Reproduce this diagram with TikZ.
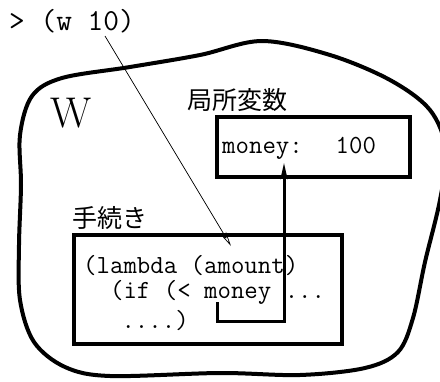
\documentclass[tikz,border=0pt]{standalone}
\usepackage{fontspec}
\newfontfamily\cjk{Noto Sans CJK JP}
\usetikzlibrary{arrows.meta}
\tikzset{
  code/.style={inner sep=0pt, anchor=base west, font=\ttfamily\fontsize{26.1}{30}\selectfont},
  prompttext/.style={inner sep=0pt, anchor=base west, font=\ttfamily\fontsize{30.5}{34}\selectfont},
  jlabel/.style={inner sep=0pt, font=\cjk\fontsize{25}{28}\selectfont},
  framebox/.style={draw, line width=4pt, inner sep=0pt},
  blob/.style={line width=4pt},
  thinarrow/.style={line width=0.7pt, -{Stealth[length=15pt,width=6pt,open]}},
  thickarrow/.style={line width=3pt, -{Stealth[length=16pt,width=7pt,inset=5pt]}}
}
\begin{document}
\begin{tikzpicture}[x=1pt,y=-1pt]
\useasboundingbox (0,0) rectangle (440,381);
% environment blob
\draw[blob] plot[smooth cycle, tension=0.55] coordinates {
  (20,135) (32,96) (62,78) (130,67) (200,55) (262,41) (330,55) (390,80)
  (430,110) (446,150) (440,200) (425,262) (413,318) (398,352) (365,368)
  (300,375) (220,373) (110,376) (65,367) (34,342) (20,300) (19,245) (21,185)};
\node[inner sep=0pt, font=\fontsize{43}{46}\selectfont] (wlabel) at (71,113) {W};
% prompt
\node[prompttext] (prompt) at (9,30) {> (w 10)};
% local variables
\node[jlabel] (varlabel) at (237,100) {局所変数};
\node[framebox, minimum width=193pt, minimum height=60pt] (varbox) at (313.5,147) {};
\node[code] (vartext) at (222,153) {money:~~\hspace{6pt}100};
% procedure
\node[jlabel] (proclabel) at (110,217.5) {手続き};
\node[framebox, minimum width=267.5pt, minimum height=109pt] (procbox) at (207.75,289.5) {};
\node[code] (line1) at (83,273) {(lambda (amount)};
\node[code] (line2) at (83,298) {\ \ (if (< money ...};
\node[code] (line3) at (81,328) {\ \ \ ....)};
% connectors
\coordinate (callpt) at (105,36);
\coordinate (bodypt) at (231,246);
\draw[thinarrow] (callpt) -- (bodypt);
\coordinate (refstart) at (217,302);
\coordinate (refc1) at (217,321.5);
\coordinate (refc2) at (284,321.5);
\coordinate (reftip) at (284,163);
\draw[thickarrow] (refstart) -- (refc1) -- (refc2) -- (reftip);
\end{tikzpicture}
\end{document}
